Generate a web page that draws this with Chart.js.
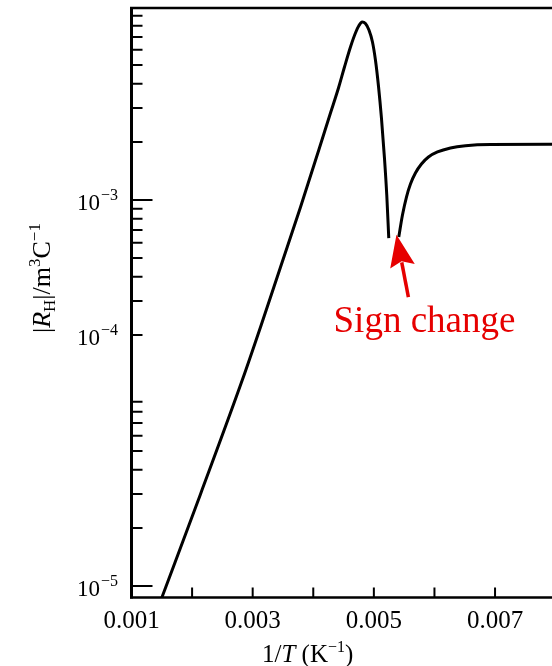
<!doctype html>
<html>

<head>
  <script src="https://cdn.jsdelivr.net/npm/chart.js@4.4.1/dist/chart.umd.min.js"></script>
  <style>
    body { margin: 0; background: #fff; }
  </style>
</head>

<body>
  <canvas id="canvas" width="552" height="666"></canvas>
  <script>
    // |R_H| against 1/T
    const lowBranchX = [0.00150, 0.00214, 0.00283, 0.00313, 0.00346, 0.00379, 0.004091, 0.004284, 0.004416,
      0.004515, 0.004614, 0.004696, 0.004754, 0.004807, 0.004861, 0.004919, 0.004977, 0.005026, 0.005076,
      0.005125, 0.005175, 0.005213, 0.005246];
    const lowBranchY = [8.7e-6, 3.0e-5, 1.17e-4, 2.2e-4, 4.5e-4, 9.2e-4, 1.816e-3, 2.824e-3, 3.804e-3,
      4.887e-3, 6.205e-3, 7.333e-3, 8.017e-3, 8.36e-3, 8.212e-3, 7.6e-3, 6.587e-3, 5.312e-3, 3.896e-3,
      2.66e-3, 1.65e-3, 1.061e-3, 6.35e-4];
    const highBranchX = [0.005411, 0.005472, 0.005538, 0.005604, 0.005686, 0.005785, 0.005901, 0.006050,
      0.006264, 0.006512, 0.006924, 0.00800];
    const highBranchY = [6.43e-4, 8.36e-4, 1.036e-3, 1.21e-3, 1.38e-3, 1.536e-3, 1.67e-3, 1.773e-3,
      1.86e-3, 1.911e-3, 1.939e-3, 1.943e-3];

    // axis ticks and labels
    const xTickValues = [0.002, 0.003, 0.004, 0.005, 0.006, 0.007];
    const xLabelValues = [0.001, 0.003, 0.005, 0.007];
    const yMajorTicks = [1e-5, 1e-3];
    const yMinorTicks = [2e-5, 3e-5, 4e-5, 5e-5, 6e-5, 7e-5, 8e-5, 9e-5,
      2e-4, 3e-4, 4e-4, 5e-4, 6e-4, 7e-4, 8e-4, 9e-4,
      2e-3, 3e-3, 4e-3, 5e-3, 6e-3, 7e-3, 8e-3, 9e-3];
    const yLabelAt = [1e-3, 2e-4, 1e-5];
    const yLabelExp = ['−3', '−4', '−5'];

    // annotation
    const noteText = 'Sign change';
    const noteAt = [0.005835, 2.07e-4];
    const arrowFrom = [0.00557, 3.14e-4];
    const arrowTo = [0.005373, 6.6e-4];

    const serif = '"Liberation Serif", "Times New Roman", serif';
    const red = '#e60000';

    function rich(ctx, parts, x0, y0) {
      let x = x0;
      for (const p of parts) {
        ctx.font = (p.it ? 'italic ' : '') + p.size + 'px ' + serif;
        ctx.fillText(p.t, x, y0 + (p.dy || 0));
        x += ctx.measureText(p.t).width;
      }
      return x - x0;
    }

    const frame = {
      id: 'frame',
      afterDatasetsDraw(chart) {
        const {ctx, chartArea: a, scales: {x, y}} = chart;
        ctx.save();
        ctx.strokeStyle = '#000';
        ctx.fillStyle = '#000';
        ctx.lineCap = 'butt';

        // box: left, bottom, top
        ctx.lineWidth = 3;
        ctx.beginPath();
        ctx.moveTo(a.left, a.top - 1);
        ctx.lineTo(a.left, a.bottom + 1);
        ctx.stroke();
        ctx.lineWidth = 2.5;
        ctx.beginPath();
        ctx.moveTo(a.left - 1.5, a.bottom);
        ctx.lineTo(a.right, a.bottom);
        ctx.moveTo(a.left - 1.5, a.top);
        ctx.lineTo(a.right, a.top);
        ctx.stroke();

        // inward ticks
        ctx.lineWidth = 2;
        ctx.beginPath();
        xTickValues.forEach((v) => {
          const px = x.getPixelForValue(v);
          ctx.moveTo(px, a.bottom);
          ctx.lineTo(px, a.bottom - 10);
        });
        yMinorTicks.forEach((v) => {
          const py = y.getPixelForValue(v);
          ctx.moveTo(a.left, py);
          ctx.lineTo(a.left + 11, py);
        });
        yMajorTicks.forEach((v) => {
          const py = y.getPixelForValue(v);
          ctx.moveTo(a.left, py);
          ctx.lineTo(a.left + 21, py);
        });
        ctx.stroke();

        // x tick labels
        ctx.textBaseline = 'alphabetic';
        ctx.textAlign = 'center';
        ctx.font = '25px ' + serif;
        xLabelValues.forEach((v) => {
          ctx.fillText(v.toFixed(3), x.getPixelForValue(v), a.bottom + 30);
        });

        // y tick labels 10^n
        yLabelAt.forEach((v, i) => {
          const py = y.getPixelForValue(v);
          ctx.textAlign = 'right';
          ctx.font = '23px ' + serif;
          ctx.fillText('10', 100, py + 10.5);
          ctx.textAlign = 'left';
          ctx.font = '16px ' + serif;
          ctx.fillText(yLabelExp[i], 101, py + 0.5);
        });

        // axis titles
        ctx.textAlign = 'left';
        rich(ctx, [
          {t: '1/', size: 25},
          {t: 'T', size: 25, it: true},
          {t: ' (K', size: 25},
          {t: '−1', size: 16, dy: -10},
          {t: ')', size: 25}
        ], 262, 662);

        ctx.save();
        ctx.translate(50, 333);
        ctx.rotate(-Math.PI / 2);
        rich(ctx, [
          {t: '|', size: 26},
          {t: 'R', size: 26, it: true},
          {t: 'H', size: 17, dy: 5},
          {t: '|/m', size: 26},
          {t: '3', size: 17, dy: -10},
          {t: 'C', size: 26},
          {t: '−1', size: 17, dy: -10}
        ], 0, 0);
        ctx.restore();

        // sign change arrow and note
        const x0 = x.getPixelForValue(arrowFrom[0]), y0 = y.getPixelForValue(arrowFrom[1]);
        const x1 = x.getPixelForValue(arrowTo[0]), y1 = y.getPixelForValue(arrowTo[1]);
        const ang = Math.atan2(y1 - y0, x1 - x0);
        const head = 32, half = 12.5;
        const bx = x1 - head * Math.cos(ang), by = y1 - head * Math.sin(ang);
        ctx.strokeStyle = red;
        ctx.fillStyle = red;
        ctx.lineWidth = 3.5;
        ctx.beginPath();
        ctx.moveTo(x0, y0);
        ctx.lineTo(bx + 4 * Math.cos(ang), by + 4 * Math.sin(ang));
        ctx.stroke();
        ctx.beginPath();
        ctx.moveTo(x1, y1);
        ctx.lineTo(bx + half * Math.sin(ang), by - half * Math.cos(ang));
        ctx.lineTo(bx + 5 * Math.cos(ang), by + 5 * Math.sin(ang));
        ctx.lineTo(bx - half * Math.sin(ang), by + half * Math.cos(ang));
        ctx.closePath();
        ctx.fill();

        ctx.textAlign = 'center';
        ctx.font = '37px ' + serif;
        ctx.fillText(noteText, x.getPixelForValue(noteAt[0]), y.getPixelForValue(noteAt[1]));
        ctx.restore();
      }
    };

    const lineStyle = {
      borderColor: '#000',
      borderWidth: 3,
      pointRadius: 0,
      fill: false,
      cubicInterpolationMode: 'monotone'
    };

    new Chart(document.getElementById('canvas').getContext('2d'), {
      type: 'line',
      data: {
        datasets: [
          Object.assign({label: 'low', data: lowBranchX.map((v, i) => ({x: v, y: lowBranchY[i]}))}, lineStyle),
          Object.assign({label: 'high', data: highBranchX.map((v, i) => ({x: v, y: highBranchY[i]}))}, lineStyle)
        ]
      },
      options: {
        responsive: false,
        animation: false,
        layout: {
          padding: {left: 131.5, top: 8, right: 0, bottom: 68.5}
        },
        plugins: {
          legend: {display: false},
          tooltip: {enabled: false}
        },
        scales: {
          x: {
            type: 'linear',
            display: false,
            min: 0.001,
            max: 0.00794
          },
          y: {
            type: 'logarithmic',
            display: false,
            min: 8.717e-6,
            max: 9.881e-3
          }
        }
      },
      plugins: [frame]
    });
  </script>
</body>

</html>
